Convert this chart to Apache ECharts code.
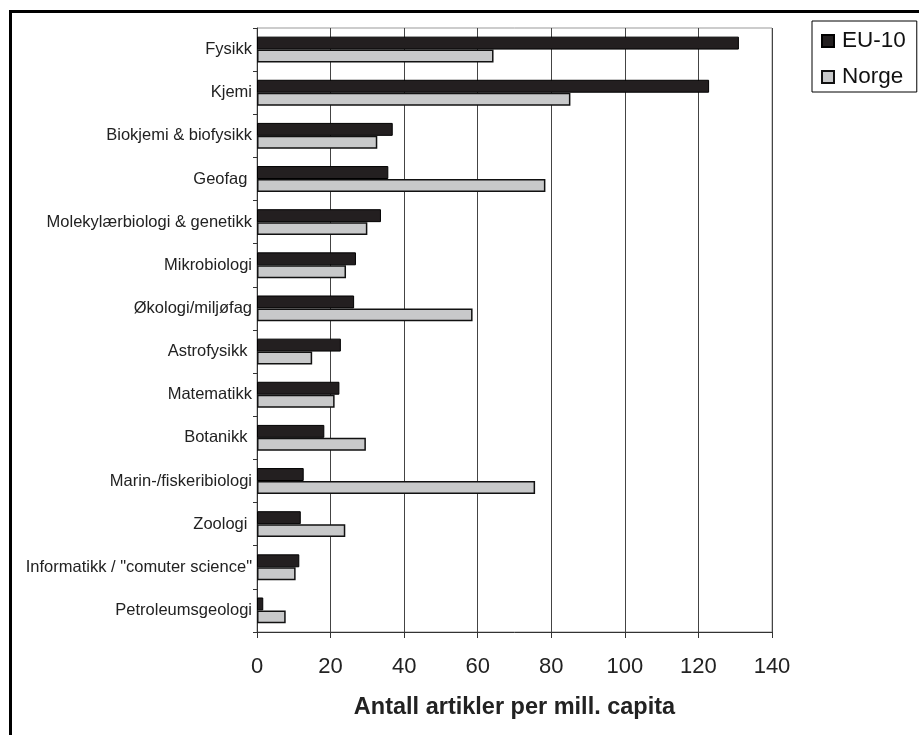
<!DOCTYPE html>
<html>
<head>
<meta charset="utf-8">
<script src="https://cdn.jsdelivr.net/npm/echarts@6/dist/echarts.min.js"></script>
<style>
  html, body { margin: 0; padding: 0; background: #fff; }
  #chart { width: 919px; height: 735px; }
</style>
</head>
<body>
<div id="chart"></div>
<script>
// Subject fields (top to bottom); trailing spaces kept as in the labels
const fields = [
  'Fysikk', 'Kjemi', 'Biokjemi & biofysikk', 'Geofag ', 'Molekylærbiologi & genetikk',
  'Mikrobiologi', 'Økologi/miljøfag', 'Astrofysikk ', 'Matematikk', 'Botanikk ',
  'Marin-/fiskeribiologi', 'Zoologi ', 'Informatikk / "comuter science"', 'Petroleumsgeologi'
];
// Articles per million inhabitants
const eu10 = [131, 122.9, 36.9, 35.7, 33.7, 26.9, 26.4, 22.8, 22.4, 18.3, 12.7, 11.9, 11.5, 1.7];
const norge = [64.3, 85.2, 32.7, 78.4, 30.0, 24.2, 58.6, 15.0, 21.1, 29.6, 75.6, 24.0, 10.5, 7.8];
const seriesNames = ['EU-10', 'Norge'];
const xTicks = { min: 0, max: 140, interval: 20 };
const xTitle = 'Antall artikler per mill. capita';

const font = '"Liberation Sans", Arial, sans-serif';
const chart = echarts.init(document.getElementById('chart'), null, { renderer: 'canvas' });

chart.setOption({
  animation: false,
  backgroundColor: '#fff',
  textStyle: { fontFamily: font },
  graphic: [{
    type: 'rect',
    shape: { x: 10.5, y: 11.5, width: 1000, height: 1000 },
    style: { fill: null, stroke: '#000', lineWidth: 3 },
    silent: true, z: 100
  }],
  legend: {
    orient: 'vertical',
    left: 812, top: 21,
    padding: [8, 11, 3, 9],
    itemGap: 12,
    itemWidth: 12, itemHeight: 12,
    icon: 'rect',
    borderColor: '#000', borderWidth: 1,
    textStyle: { fontSize: 22.5, color: '#111', fontFamily: font, padding: [0, 0, 0, 3], lineHeight: 24 },
    data: seriesNames
  },
  grid: {
    left: 257, top: 28, right: 147, bottom: 103,
    show: true, borderColor: '#999', borderWidth: 1,
    containLabel: false
  },
  xAxis: {
    type: 'value',
    min: xTicks.min, max: xTicks.max, interval: xTicks.interval,
    name: xTitle, nameLocation: 'middle', nameGap: 64,
    nameTextStyle: { fontSize: 23.5, fontWeight: 'bold', color: '#222', fontFamily: font },
    axisLine: { show: true, lineStyle: { color: '#333', width: 1 } },
    axisTick: { show: true, length: 6, lineStyle: { color: '#333' } },
    axisLabel: { fontSize: 22, color: '#222', margin: 24, fontFamily: font },
    splitLine: { show: true, lineStyle: { color: '#444', width: 1 } }
  },
  yAxis: {
    type: 'category',
    inverse: true,
    data: fields,
    axisLine: { show: true, lineStyle: { color: '#333', width: 1 } },
    axisTick: { show: true, length: 4, lineStyle: { color: '#333' } },
    axisLabel: { fontSize: 16.5, color: '#222', margin: 5, fontFamily: font },
    splitLine: { show: false }
  },
  series: [
    {
      name: seriesNames[0], type: 'bar', data: eu10,
      barGap: '0%', barCategoryGap: '40%',
      itemStyle: { color: '#231f20', borderColor: '#000', borderWidth: 1 }
    },
    {
      name: seriesNames[1], type: 'bar', data: norge,
      barGap: '0%', barCategoryGap: '40%',
      itemStyle: { color: '#c8c9ca', borderColor: '#111', borderWidth: 1.5 }
    }
  ]
});
</script>
</body>
</html>
